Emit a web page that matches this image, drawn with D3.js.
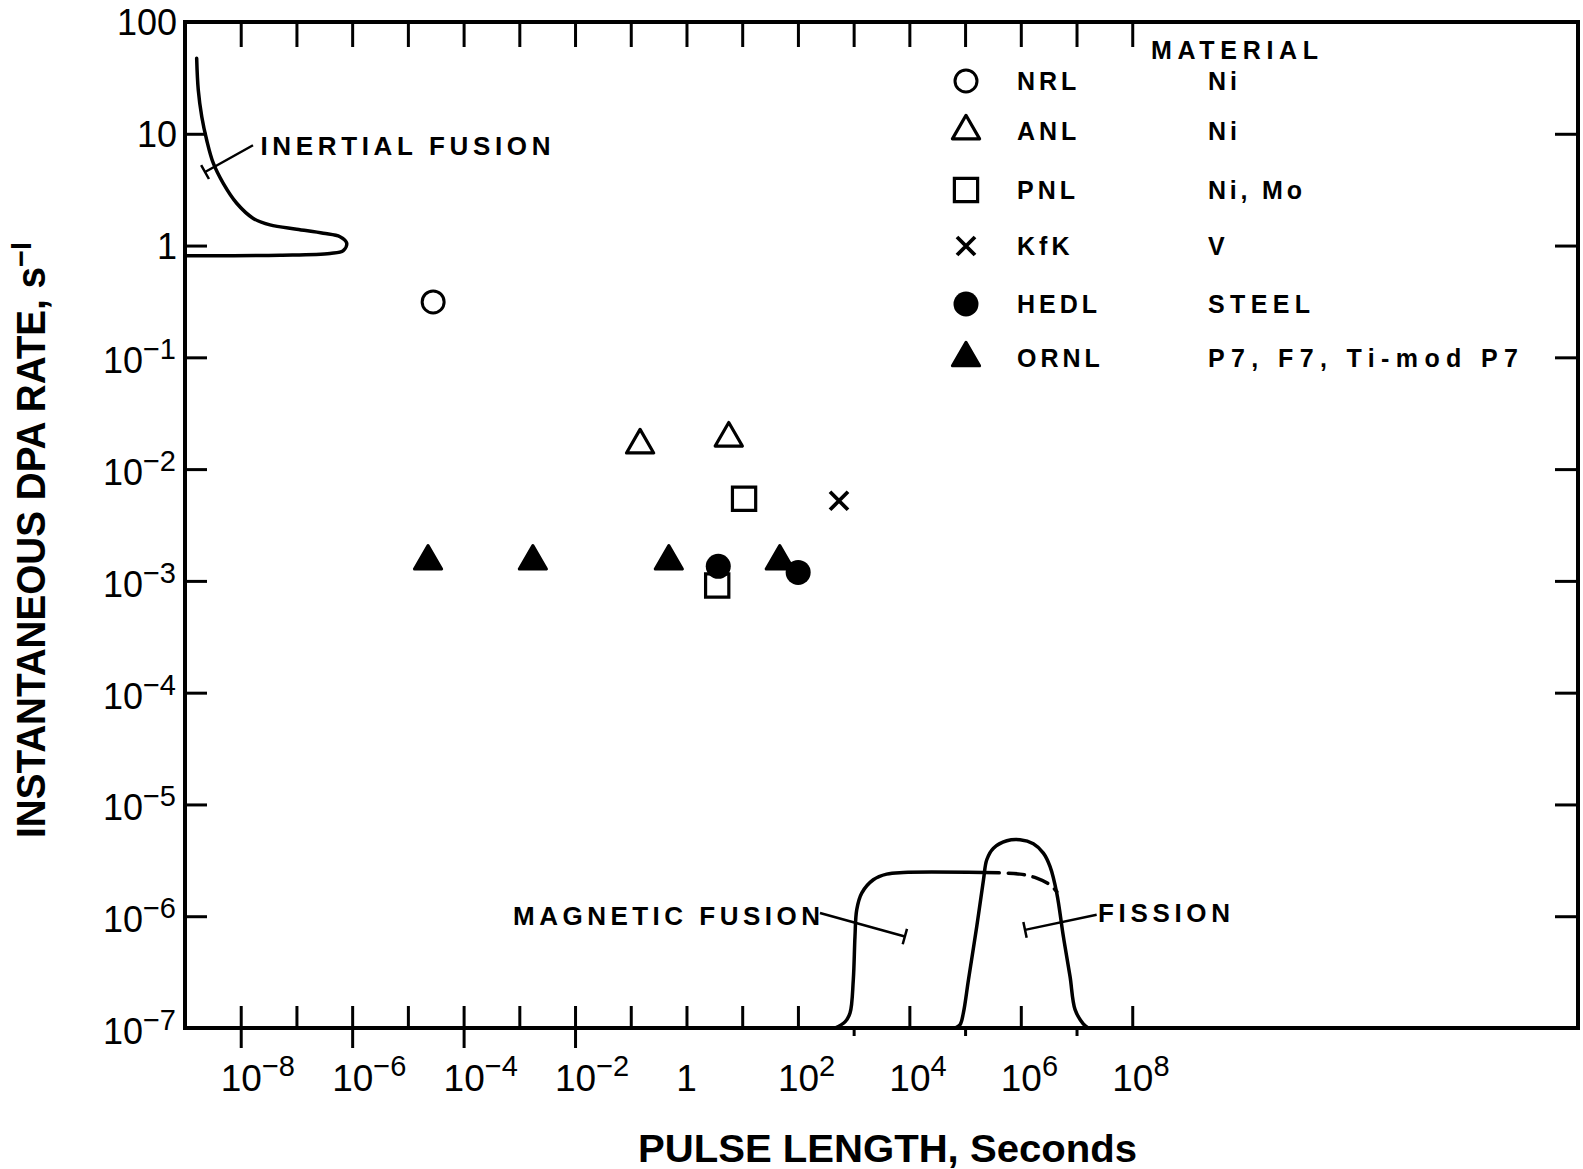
<!DOCTYPE html>
<html>
<head>
<meta charset="utf-8">
<script src="https://cdn.jsdelivr.net/npm/d3@7"></script>
<style>
body { margin: 0; background: #fff; }
text { font-family: "Liberation Sans", Arial, sans-serif; fill: #000; }
</style>
</head>
<body>
<svg width="1583" height="1169"></svg>
<script>
// tick labels (powers of ten)
var xLabelExps = [-8, -6, -4, -2, 0, 2, 4, 6, 8];
var yLabelExps = [2, 1, 0, -1, -2, -3, -4, -5, -6, -7];

// experiments: pulse length (s) and instantaneous dpa rate (1/s)
var nrlT = [2.84e-5];
var nrlRate = [0.313];
var anlT = [0.147, 5.74];
var anlRate = [0.0164, 0.0189];
var pnlT = [10.8, 3.56];
var pnlRate = [0.00544, 0.00091];
var kfkT = [546];
var kfkRate = [0.00521];
var hedlT = [3.72, 101];
var hedlRate = [0.00135, 0.00119];
var ornlT = [2.3e-5, 1.75e-3, 0.482, 47.2];
var ornlRate = [0.0015, 0.0015, 0.0015, 0.0015];

// source envelopes
var inertialT = [1.62e-9, 1.73e-9, 2.0e-9, 2.45e-9, 3.22e-9, 4.86e-9, 8.47e-9, 1.68e-8, 3.35e-8, 1.01e-7, 3.03e-7, 6.05e-7, 7.98e-7, 6.93e-7, 4.0e-7, 5.07e-8, 1e-9];
var inertialRate = [47.3, 24.7, 14.2, 8.8, 5.45, 3.6, 2.39, 1.75, 1.53, 1.40, 1.29, 1.20, 1.05, 0.90, 0.85, 0.82, 0.81];
var magneticT = [462, 700, 861, 986, 1057, 1135, 1396, 2254, 3917, 7780, 2.12e5];
var magneticRate = [1e-7, 1.135e-7, 1.36e-7, 2.70e-7, 6.58e-7, 1.14e-6, 1.61e-6, 2.12e-6, 2.38e-6, 2.46e-6, 2.46e-6];
var magneticDashT = [2.12e5, 9.68e5, 1.93e6, 3.34e6, 4.42e6];
var magneticDashRate = [2.46e-6, 2.38e-6, 2.19e-6, 1.91e-6, 1.66e-6];
var fissionT = [6.6e4, 8.11e4, 9.31e4, 1.15e5, 1.62e5, 2.14e5, 2.45e5, 3.23e5, 5.62e5, 9.68e5, 1.68e6, 2.54e6, 3.34e6, 4.42e6, 5.81e6, 7.66e6, 9.42e6, 1.32e7, 1.61e7];
var fissionRate = [1e-7, 1.07e-7, 1.36e-7, 2.70e-7, 8.11e-7, 2.12e-6, 3.20e-6, 4.06e-6, 4.73e-6, 4.83e-6, 4.45e-6, 3.67e-6, 2.79e-6, 1.61e-6, 6.58e-7, 2.88e-7, 1.46e-7, 1.09e-7, 1e-7];

// legend
var labNames = ["NRL", "ANL", "PNL", "KfK", "HEDL", "ORNL"];
var labMaterials = ["Ni", "Ni", "Ni, Mo", "V", "STEEL", "P7, F7, Ti-mod P7"];

var pLeft = 185, pRight = 1578, pTop = 22, pBottom = 1028;
var svg = d3.select("svg");
svg.append("rect").attr("width", 1583).attr("height", 1169).attr("fill", "#fff");

var x = d3.scaleLog().domain([1e-9, 1e16]).range([pLeft, pRight]);
var y = d3.scaleLog().domain([1e-7, 100]).range([pBottom, pTop]);

var pow = function(a, b) { return d3.range(a, b + 1).map(function(e) { return Math.pow(10, e); }); };

var styleAxis = function(g) {
  g.select(".domain").remove();
  g.selectAll("line").attr("stroke", "#000").attr("stroke-width", 3);
  g.selectAll("text").remove();
};

svg.append("g").attr("transform", "translate(0," + pBottom + ")")
  .call(d3.axisBottom(x).tickValues(pow(-8, 8).filter(function(v, i) { return [11, 13, 15].indexOf(i) < 0; })).tickSize(-22)).call(styleAxis);
svg.append("g").attr("transform", "translate(0," + pBottom + ")")
  .call(d3.axisBottom(x).tickValues(pow(-8, -2).filter(function(v, i) { return i % 2 == 0; })).tickSize(20)).call(styleAxis);
svg.append("g").attr("transform", "translate(0," + pBottom + ")")
  .call(d3.axisBottom(x).tickValues([1e3, 1e5, 1e7]).tickSize(8)).call(styleAxis);
svg.append("g").attr("transform", "translate(0," + pTop + ")")
  .call(d3.axisTop(x).tickValues(pow(-8, 8)).tickSize(-25)).call(styleAxis);
svg.append("g").attr("transform", "translate(" + pLeft + ",0)")
  .call(d3.axisLeft(y).tickValues(pow(-6, 1)).tickSize(-22)).call(styleAxis);
svg.append("g").attr("transform", "translate(" + pRight + ",0)")
  .call(d3.axisRight(y).tickValues(pow(-6, 1)).tickSize(-23)).call(styleAxis);

svg.append("rect")
  .attr("x", pLeft).attr("y", pTop)
  .attr("width", pRight - pLeft).attr("height", pBottom - pTop)
  .attr("fill", "none").attr("stroke", "#000").attr("stroke-width", 4);

// x tick labels
xLabelExps.forEach(function(e) {
  var px = x(Math.pow(10, e));
  if (e == 0) {
    svg.append("text").attr("x", px).attr("y", 1091).attr("text-anchor", "middle")
      .style("font-size", "37px").text("1");
    return;
  }
  var t = svg.append("text").attr("x", px - 20).attr("y", 1091).style("font-size", "37px");
  t.append("tspan").text("10");
  t.append("tspan").attr("dy", -15).style("font-size", "29px").text(e < 0 ? "\u2212" + (-e) : e);
});

// y tick labels
yLabelExps.forEach(function(e) {
  var py = y(Math.pow(10, e));
  if (e >= 0) {
    svg.append("text").attr("x", 177).attr("y", py + 13).attr("text-anchor", "end")
      .style("font-size", "36px").text(e == 2 ? "100" : e == 1 ? "10" : "1");
    return;
  }
  var t = svg.append("text").attr("x", 176).attr("y", py + 16).attr("text-anchor", "end").style("font-size", "36px");
  t.append("tspan").text("10");
  t.append("tspan").attr("dy", -14).style("font-size", "29px").text("\u2212" + (-e));
});

// axis titles
var yt = svg.append("text")
  .attr("transform", "translate(45,540) rotate(-90)")
  .attr("text-anchor", "middle")
  .attr("textLength", 596).attr("lengthAdjust", "spacingAndGlyphs")
  .style("font-size", "40px").style("font-weight", "bold");
yt.append("tspan").text("INSTANTANEOUS DPA RATE, s");
yt.append("tspan").attr("dy", -14).style("font-size", "30px").text("\u2212I");

svg.append("text")
  .attr("x", 638).attr("y", 1162)
  .attr("textLength", 499).attr("lengthAdjust", "spacingAndGlyphs")
  .style("font-size", "39px").style("font-weight", "bold")
  .text("PULSE LENGTH, Seconds");

// envelopes
var line = d3.line()
  .x(function(d) { return x(d[0]); })
  .y(function(d) { return y(d[1]); })
  .curve(d3.curveCatmullRom.alpha(0.5));
var pairs = function(a, b) { return a.map(function(v, i) { return [v, b[i]]; }); };

[[inertialT, inertialRate, null], [magneticT, magneticRate, null], [magneticDashT, magneticDashRate, "16,9"], [fissionT, fissionRate, null]]
  .forEach(function(c) {
    svg.append("path")
      .attr("d", line(pairs(c[0], c[1])))
      .attr("fill", "none").attr("stroke", "#000").attr("stroke-width", 3.5)
      .attr("stroke-linecap", "round").attr("stroke-linejoin", "round")
      .attr("stroke-dasharray", c[2]);
  });

// annotations with leaders
var notes = [
  { text: "INERTIAL FUSION", t: 2.26e-8, r: 6.46, len: 290, from: [1.66e-8, 7.9], to: [2.29e-9, 4.55] },
  { text: "MAGNETIC FUSION", t: 7.7e-4, r: 8.4e-7, len: 307, from: [249, 1.07e-6], to: [8300, 6.58e-7] },
  { text: "FISSION", t: 2.43e7, r: 8.8e-7, len: 132, from: [2.3e7, 1.03e-6], to: [1.19e6, 7.55e-7] }
];
notes.forEach(function(n) {
  svg.append("text")
    .attr("x", x(n.t)).attr("y", y(n.r))
    .attr("textLength", n.len).attr("lengthAdjust", "spacing")
    .style("font-size", "26px").style("font-weight", "bold")
    .text(n.text);
  var x1 = x(n.from[0]), y1 = y(n.from[1]), x2 = x(n.to[0]), y2 = y(n.to[1]);
  var dx = x2 - x1, dy = y2 - y1, L = Math.sqrt(dx * dx + dy * dy);
  var nx = -dy / L * 8, ny = dx / L * 8;
  svg.append("path")
    .attr("d", "M" + x1 + "," + y1 + "L" + x2 + "," + y2 + "M" + (x2 + nx) + "," + (y2 + ny) + "L" + (x2 - nx) + "," + (y2 - ny))
    .attr("fill", "none").attr("stroke", "#000").attr("stroke-width", 2.5);
});

// markers
var sym = function(type, size) { return d3.symbol().type(type).size(size)(); };
var triPath = sym(d3.symbolTriangle, 320);
var squarePath = sym(d3.symbolSquare, 540);
var crossPath = "M-9,-9L9,9M-9,9L9,-9";

var marker = function(g, kind) {
  if (kind == "circle") g.append("circle").attr("r", 11).attr("fill", "#fff").attr("stroke", "#000").attr("stroke-width", 3);
  if (kind == "dot") g.append("circle").attr("r", 12.5).attr("fill", "#000");
  if (kind == "tri") g.append("path").attr("d", triPath).attr("fill", "#fff").attr("stroke", "#000").attr("stroke-width", 3.2).attr("stroke-linejoin", "round");
  if (kind == "filltri") g.append("path").attr("d", triPath).attr("fill", "#000").attr("stroke", "#000").attr("stroke-width", 3).attr("stroke-linejoin", "round");
  if (kind == "square") g.append("path").attr("d", squarePath).attr("fill", "#fff").attr("stroke", "#000").attr("stroke-width", 3.2);
  if (kind == "cross") g.append("path").attr("d", crossPath).attr("stroke", "#000").attr("stroke-width", 3.8);
};
var draw = function(ts, rs, kind) {
  pairs(ts, rs).forEach(function(d) {
    var g = svg.append("g").attr("transform", "translate(" + x(d[0]) + "," + y(d[1]) + ")");
    marker(g, kind);
  });
};
var kinds = ["circle", "tri", "square", "cross", "dot", "filltri"];
draw(nrlT, nrlRate, "circle");
draw(anlT, anlRate, "tri");
draw(pnlT, pnlRate, "square");
draw(kfkT, kfkRate, "cross");
draw(ornlT, ornlRate, "filltri");
draw(hedlT, hedlRate, "dot");

// legend
var rowY = [81, 131, 190, 246, 304, 358];
var matLen = [null, null, 94, null, 102, 310];
svg.append("text").attr("x", 1151).attr("y", 59)
  .attr("textLength", 167).attr("lengthAdjust", "spacing")
  .style("font-size", "25px").style("font-weight", "bold")
  .text("MATERIAL");
labNames.forEach(function(name, i) {
  var g = svg.append("g").attr("transform", "translate(966," + rowY[i] + ")");
  marker(g, kinds[i]);
  svg.append("text").attr("x", 1017).attr("y", rowY[i] + 9)
    .style("font-size", "25px").style("font-weight", "bold").style("letter-spacing", "4px")
    .text(name);
  svg.append("text").attr("x", 1208).attr("y", rowY[i] + 9)
    .attr("textLength", matLen[i]).attr("lengthAdjust", "spacing")
    .style("font-size", "25px").style("font-weight", "bold").style("letter-spacing", matLen[i] ? null : "4px")
    .text(labMaterials[i]);
});
</script>
</body>
</html>
